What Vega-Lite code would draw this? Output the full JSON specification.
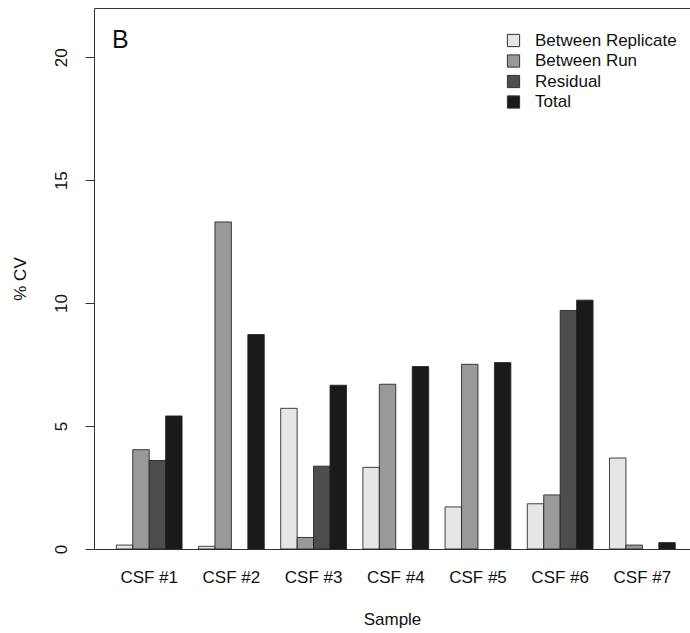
{
  "$schema": "https://vega.github.io/schema/vega-lite/v6.json",
  "width": 596,
  "height": 541,
  "autosize": {"type": "none"},
  "padding": {"left": 94, "top": 8, "right": 0, "bottom": 84},
  "background": "white",
  "config": {
    "font": "Liberation Sans",
    "view": {"stroke": "#333", "strokeWidth": 1}
  },
  "title": {
    "text": "B",
    "anchor": "start",
    "frame": "group",
    "fontSize": 25,
    "fontWeight": "normal",
    "color": "#111",
    "dx": 18,
    "dy": 49
  },
  "data": {
    "values": [
      {"sample": "CSF #1", "component": "Between Replicate", "cv": 0.16},
      {"sample": "CSF #1", "component": "Between Run", "cv": 4.04},
      {"sample": "CSF #1", "component": "Residual", "cv": 3.60},
      {"sample": "CSF #1", "component": "Total", "cv": 5.41},
      {"sample": "CSF #2", "component": "Between Replicate", "cv": 0.11},
      {"sample": "CSF #2", "component": "Between Run", "cv": 13.30},
      {"sample": "CSF #2", "component": "Total", "cv": 8.72},
      {"sample": "CSF #3", "component": "Between Replicate", "cv": 5.72},
      {"sample": "CSF #3", "component": "Between Run", "cv": 0.47},
      {"sample": "CSF #3", "component": "Residual", "cv": 3.37},
      {"sample": "CSF #3", "component": "Total", "cv": 6.66},
      {"sample": "CSF #4", "component": "Between Replicate", "cv": 3.32},
      {"sample": "CSF #4", "component": "Between Run", "cv": 6.70},
      {"sample": "CSF #4", "component": "Total", "cv": 7.42},
      {"sample": "CSF #5", "component": "Between Replicate", "cv": 1.71},
      {"sample": "CSF #5", "component": "Between Run", "cv": 7.51},
      {"sample": "CSF #5", "component": "Total", "cv": 7.58},
      {"sample": "CSF #6", "component": "Between Replicate", "cv": 1.84},
      {"sample": "CSF #6", "component": "Between Run", "cv": 2.20},
      {"sample": "CSF #6", "component": "Residual", "cv": 9.70},
      {"sample": "CSF #6", "component": "Total", "cv": 10.12},
      {"sample": "CSF #7", "component": "Between Replicate", "cv": 3.70},
      {"sample": "CSF #7", "component": "Between Run", "cv": 0.16},
      {"sample": "CSF #7", "component": "Total", "cv": 0.26}
    ]
  },
  "mark": {"type": "bar", "stroke": "#222", "strokeWidth": 1, "strokeOpacity": 0.85},
  "encoding": {
    "x": {
      "field": "sample",
      "type": "nominal",
      "sort": ["CSF #1", "CSF #2", "CSF #3", "CSF #4", "CSF #5", "CSF #6", "CSF #7"],
      "scale": {"paddingInner": 0.2, "paddingOuter": 0.2255, "align": 0.602},
      "axis": {
        "title": "Sample",
        "labelAngle": 0,
        "domain": false,
        "ticks": false,
        "labelFontSize": 17,
        "labelColor": "#111",
        "labelPadding": 20,
        "titleFontSize": 17,
        "titleFontWeight": "normal",
        "titleColor": "#111",
        "titlePadding": 26
      }
    },
    "xOffset": {
      "field": "component",
      "type": "nominal",
      "scale": {"domain": ["Between Replicate", "Between Run", "Residual", "Total"], "paddingInner": 0, "paddingOuter": 0}
    },
    "y": {
      "field": "cv",
      "type": "quantitative",
      "scale": {"domain": [0, 22], "nice": false, "zero": true},
      "axis": {
        "title": "% CV",
        "values": [0, 5, 10, 15, 20],
        "grid": false,
        "domain": false,
        "tickSize": 9,
        "tickColor": "#333",
        "labelAngle": -90,
        "labelAlign": "center",
        "labelBaseline": "bottom",
        "labelPadding": 15,
        "labelFontSize": 17,
        "labelColor": "#111",
        "titleFontSize": 17,
        "titleFontWeight": "normal",
        "titleColor": "#111",
        "titlePadding": 23
      }
    },
    "color": {
      "field": "component",
      "type": "nominal",
      "scale": {
        "domain": ["Between Replicate", "Between Run", "Residual", "Total"],
        "range": ["#e6e6e6", "#999999", "#4d4d4d", "#1a1a1a"]
      },
      "legend": {
        "orient": "none",
        "legendX": 411,
        "legendY": 24,
        "title": null,
        "symbolType": "square",
        "symbolSize": 150,
        "symbolStrokeColor": "#333",
        "symbolStrokeWidth": 1,
        "symbolOpacity": 1,
        "labelFontSize": 17,
        "labelColor": "#111",
        "labelOffset": 13,
        "rowPadding": 2.5
      }
    }
  }
}
